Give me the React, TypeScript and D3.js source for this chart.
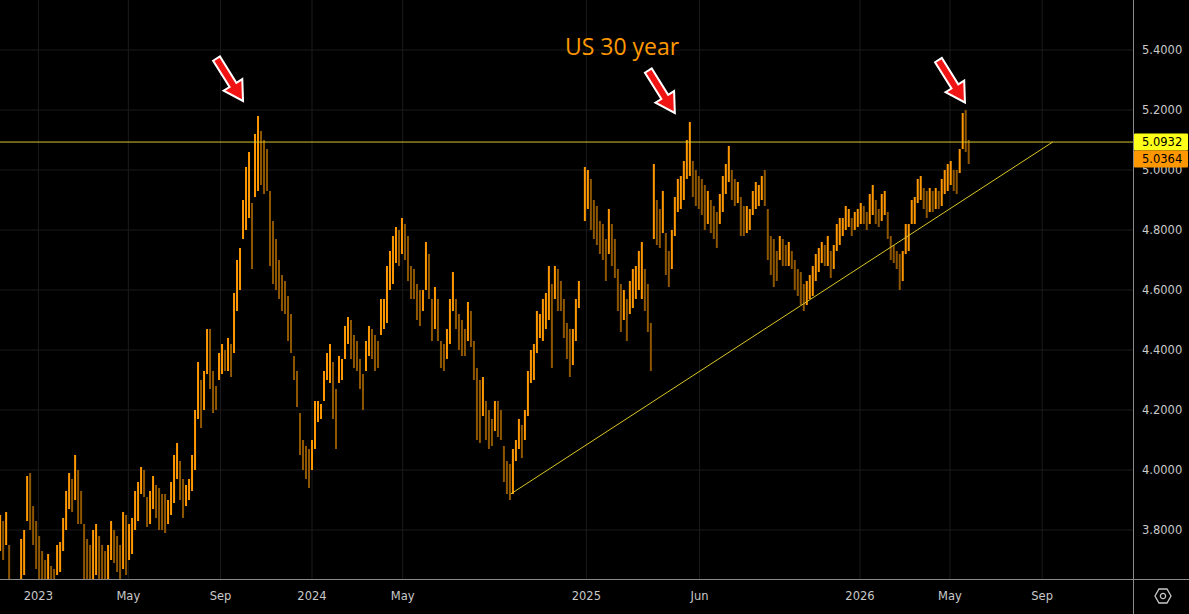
import React from "react";
import * as d3 from "d3";

// ---- data ----
const START_DATE = "2022-11-11";
const STEP_DAYS = 4;

const barHigh: (number | null)[] = [
  3.85, 3.83, 3.86, 3.75, 3.62, 3.61, 3.63, 3.77, 3.8, 3.98,
  3.99, 3.88, 3.83, 3.78, 3.73, 3.7, 3.72, 3.68, 3.67, 3.75,
  3.76, 3.84, 3.93, 3.99, 3.97, 4.05, 4.0, 3.93, 3.82, 3.77,
  3.75, 3.8, 3.82, 3.78, 3.75, 3.73, 3.75, 3.83, 3.8, 3.78,
  3.75, 3.86, 3.85, 3.82, 3.84, 3.93, 3.96, 4.01, 4.0, 3.91,
  3.93, 3.98, 3.95, 3.94, 3.92, 3.92, 3.9, 3.96, 4.05, 4.09,
  4.03, 3.97, 3.95, 3.97, 4.05, 4.2, 4.36, 4.3, 4.33, 4.47,
  4.47, 4.33, 4.28, 4.39, 4.42, 4.4, 4.44, 4.42, 4.59, 4.7,
  4.74, 4.9, 5.01, 5.06, 4.89, 5.12, 5.18, 5.13, 5.1, 5.07,
  4.93, 4.83, 4.77, 4.7, 4.65, 4.63, 4.58, 4.52, 4.38, 4.33,
  4.19, 4.1, 4.08, 4.07, 4.1, 4.23, 4.23, 4.22, 4.33, 4.39,
  4.42, 4.36, 4.27, 4.38, 4.37, 4.48, 4.51, 4.5, 4.45, 4.43,
  4.37, 4.32, 4.43, 4.48, 4.47, 4.45, 4.43, 4.57, 4.57, 4.68,
  4.73, 4.78, 4.81, 4.8, 4.84, 4.82, 4.78, 4.68, 4.67, 4.62,
  4.6, 4.6, 4.76, 4.72, 4.57, 4.61, 4.57, 4.43, 4.42, 4.47,
  4.57, 4.66, 4.57, 4.52, 4.5, 4.47, 4.56, 4.53, 4.43, 4.34,
  4.3, 4.31, 4.23, 4.2, 4.17, 4.23, 4.23, 4.2, 4.08, 4.03,
  4.02, 4.07, 4.1, 4.17, 4.15, 4.2, 4.33, 4.4, 4.42, 4.53,
  4.52, 4.57, 4.59, 4.68, 4.62, 4.68, 4.67, 4.63, 4.57, 4.49,
  4.47, 4.47, 4.57, 4.63, null, 5.01, 5.0, 4.97, 4.9, 4.88,
  4.83, 4.82, 4.77, 4.87, 4.82, 4.77, 4.67, 4.62, 4.6, 4.57,
  4.63, 4.67, 4.68, 4.73, 4.76, 4.67, 4.62, 4.49, 5.02, 4.9,
  4.87, 4.93, 4.79, 4.73, 4.8, 4.91, 4.97, 4.98, 5.03, 5.1,
  5.16, 5.03, 5.0, 4.98, 4.97, 4.95, 4.93, 4.9, 4.88, 4.86,
  4.92, 4.98, 5.02, 5.08, 5.0, 4.97, 4.96, 4.91, 4.88, 4.88,
  4.87, 4.93, 4.96, 4.95, 4.98, 5.0, 4.87, 4.78, 4.77, 4.73,
  4.78, 4.77, 4.75, 4.76, 4.73, 4.7, 4.67, 4.66, 4.62, 4.63,
  4.65, 4.68, 4.72, 4.74, 4.76, 4.75, 4.78, 4.73, 4.75, 4.82,
  4.84, 4.84, 4.88, 4.87, 4.84, 4.86, 4.87, 4.89, 4.88, 4.86,
  4.92, 4.95, 4.9, 4.87, 4.92, 4.93, 4.86, 4.78, 4.75, 4.73,
  4.72, 4.73, 4.82, 4.82, 4.9, 4.91, 4.97, 4.98, 4.94, 4.93,
  4.94, 4.93, 4.94, 4.93, 4.97, 5.0, 5.02, 5.03, 5.0, 5.0,
  5.07, 5.19, 5.2, 5.1,
];

const barLow: (number | null)[] = [
  3.73, 3.7, 3.75, 3.62, 3.55, 3.54, 3.56, 3.62, 3.65, 3.83,
  3.8, 3.75, 3.67, 3.63, 3.6, 3.6, 3.6, 3.58, 3.57, 3.65,
  3.66, 3.73, 3.8, 3.87, 3.86, 3.9, 3.82, 3.82, 3.63, 3.6,
  3.6, 3.63, 3.65, 3.62, 3.62, 3.6, 3.63, 3.7, 3.69, 3.66,
  3.62, 3.67, 3.65, 3.7, 3.72, 3.8, 3.83, 3.92, 3.91, 3.81,
  3.82, 3.87, 3.84, 3.8, 3.8, 3.79, 3.82, 3.85, 3.89, 3.97,
  3.9, 3.84, 3.88, 3.9, 3.93, 4.0, 4.17, 4.14, 4.2, 4.32,
  4.27, 4.19, 4.2, 4.3, 4.32, 4.33, 4.33, 4.31, 4.39, 4.53,
  4.6, 4.77, 4.8, 4.84, 4.67, 4.91, 4.93, 4.95, 4.92, 4.93,
  4.68, 4.62, 4.6, 4.57, 4.53, 4.52, 4.43, 4.39, 4.3, 4.21,
  4.05, 4.0, 3.97, 3.94, 4.0, 4.07, 4.16, 4.17, 4.23, 4.3,
  4.29, 4.17, 4.07, 4.29, 4.3, 4.37, 4.42, 4.37, 4.34, 4.33,
  4.27, 4.2, 4.33, 4.38, 4.37, 4.33, 4.34, 4.45, 4.47, 4.49,
  4.6, 4.62, 4.69, 4.68, 4.72, 4.7, 4.63, 4.57, 4.57, 4.5,
  4.48, 4.53, 4.6, 4.57, 4.43, 4.47, 4.43, 4.34, 4.33, 4.37,
  4.42, 4.53, 4.47, 4.4, 4.38, 4.38, 4.43, 4.41, 4.3, 4.1,
  4.09, 4.18, 4.1, 4.07, 4.08, 4.13, 4.11, 4.1, 3.96, 3.92,
  3.9, 3.92, 4.03, 4.07, 4.04, 4.1, 4.18, 4.29, 4.3, 4.39,
  4.44, 4.43, 4.47, 4.5, 4.34, 4.57, 4.53, 4.53, 4.44, 4.37,
  4.31, 4.35, 4.43, 4.54, null, 4.83, 4.87, 4.8, 4.77, 4.75,
  4.72, 4.7, 4.63, 4.72, 4.68, 4.64, 4.53, 4.46, 4.5, 4.43,
  4.52, 4.54, 4.57, 4.6, 4.57, 4.53, 4.46, 4.33, 4.77, 4.75,
  4.74, 4.79, 4.65, 4.61, 4.67, 4.78, 4.86, 4.87, 4.9, 4.97,
  4.98, 4.91, 4.88, 4.87, 4.85, 4.8, 4.82, 4.79, 4.77, 4.74,
  4.82, 4.86, 4.92, 4.96, 4.9, 4.88, 4.89, 4.78, 4.78, 4.79,
  4.8, 4.85, 4.87, 4.88, 4.9, 4.88, 4.7, 4.65, 4.61, 4.63,
  4.7, 4.68, 4.68, 4.68, 4.67, 4.6, 4.58, 4.55, 4.53, 4.55,
  4.57, 4.58, 4.63, 4.66, 4.69, 4.68, 4.68, 4.64, 4.67, 4.73,
  4.75, 4.78, 4.8, 4.81, 4.78, 4.8, 4.81, 4.82, 4.82, 4.8,
  4.82, 4.85, 4.82, 4.81, 4.83, 4.85, 4.77, 4.7, 4.69, 4.67,
  4.6, 4.63, 4.72, 4.73, 4.82, 4.82, 4.89, 4.9, 4.87, 4.84,
  4.86, 4.86, 4.87, 4.87, 4.88, 4.92, 4.93, 4.95, 4.93, 4.92,
  4.99, 5.07, 5.06, 5.02,
];

const yTicks = [3.8, 4.0, 4.2, 4.4, 4.6, 4.8, 5.0, 5.2, 5.4];
const timeTickDates = [
  "2023-01-01", "2023-05-01", "2023-09-01", "2024-01-01", "2024-05-01",
  "2025-01-01", "2025-06-01", "2026-01-01", "2026-05-01", "2026-09-01",
];
const timeTickLabels = ["2023", "May", "Sep", "2024", "May", "2025", "Jun", "2026", "May", "Sep"];

const resistanceLevel = 5.0932;
const lastPrice = 5.0364;
const trendDates = ["2024-09-22", "2026-09-15"];
const trendValues = [3.92, 5.0932];
const arrowDates = ["2023-10-01", "2025-04-29", "2026-05-21"];
const arrowValues = [5.23, 5.19, 5.225];
const titleText = "US 30 year";

const parse = d3.utcParse("%Y-%m-%d");

export default function App() {
  const W = 1189;
  const H = 614;
  const plotR = 1133;
  const plotB = 579;

  const x = d3
    .scaleUtc()
    .domain([parse("2024-01-01")!, parse("2026-01-01")!])
    .range([312, 860]);
  const y = d3.scaleLinear().domain([3.8, 5.4]).range([530, 50]);

  const start = parse(START_DATE)!;
  const bars = barHigh
    .map((h, i) => ({
      date: d3.utcDay.offset(start, i * STEP_DAYS),
      high: h,
      low: barLow[i],
    }))
    .filter((b) => b.high != null && b.low != null) as {
    date: Date;
    high: number;
    low: number;
  }[];

  const axisFont = "'DejaVu Sans', Verdana, sans-serif";
  const gridColor = "#1b1b1b";
  const lineYellow = "#d9c626";

  // arrow shape pointing along +x with tip at origin
  const arrowPath = "M0,0 L-19,-11 L-19,-4 L-50,-4 L-50,4 L-19,4 L-19,11 Z";
  const arrowAngle = 58;

  return (
    <svg
      width={W}
      height={H}
      style={{ position: "absolute", left: 0, top: 0, display: "block" }}
    >
      <defs>
        <clipPath id="plotClip">
          <rect x={0} y={0} width={plotR} height={plotB} />
        </clipPath>
      </defs>
      <rect x={0} y={0} width={W} height={H} fill="#000" />

      {/* grid */}
      <g>
        {yTicks.map((t) => (
          <line key={"gy" + t} x1={0} x2={plotR} y1={y(t)} y2={y(t)} stroke={gridColor} strokeWidth={1} />
        ))}
        {timeTickDates.map((d) => (
          <line
            key={"gx" + d}
            x1={x(parse(d)!)}
            x2={x(parse(d)!)}
            y1={0}
            y2={plotB}
            stroke={gridColor}
            strokeWidth={1}
          />
        ))}
      </g>

      {/* bars */}
      <g clipPath="url(#plotClip)">
        {bars.map((b, i) => {
          const prev = i > 0 ? bars[i - 1] : b;
          const down = (b.high + b.low) / 2 < (prev.high + prev.low) / 2;
          const y1 = y(b.high);
          const y2 = y(b.low);
          return (
            <rect
              key={i}
              x={x(b.date) - 1}
              y={y1}
              width={2}
              height={Math.max(1, y2 - y1)}
              fill={down ? "#8f5600" : "#ff9800"}
            />
          );
        })}
        <line
          x1={0}
          x2={plotR}
          y1={y(resistanceLevel)}
          y2={y(resistanceLevel)}
          stroke={lineYellow}
          strokeWidth={1}
        />
        <line
          x1={x(parse(trendDates[0])!)}
          y1={y(trendValues[0])}
          x2={x(parse(trendDates[1])!)}
          y2={y(trendValues[1])}
          stroke={lineYellow}
          strokeWidth={1}
        />
        {arrowDates.map((d, i) => (
          <path
            key={"ar" + i}
            d={arrowPath}
            transform={`translate(${x(parse(d)!)},${y(arrowValues[i])}) rotate(${arrowAngle})`}
            fill="#f01414"
            stroke="#ffffff"
            strokeWidth={2}
            strokeLinejoin="miter"
          />
        ))}
        <text
          x={622}
          y={55}
          textAnchor="middle"
          fontFamily="'Open Sans', 'Noto Sans', sans-serif"
          fontSize={23}
          fill="#ff9800"
        >
          {titleText}
        </text>
      </g>

      {/* axes frame */}
      <line x1={0} x2={W} y1={plotB + 0.5} y2={plotB + 0.5} stroke="#8a8a8a" strokeWidth={1} />
      <line x1={plotR + 0.5} x2={plotR + 0.5} y1={0} y2={H} stroke="#8a8a8a" strokeWidth={1} />

      {/* y tick labels */}
      {yTicks.map((t) => (
        <text
          key={"yl" + t}
          x={1142}
          y={y(t)}
          dominantBaseline="central"
          fontFamily={axisFont}
          fontSize={11.5}
          fill="#c9c9c9"
        >
          {t.toFixed(4)}
        </text>
      ))}

      {/* x tick labels */}
      {timeTickDates.map((d, i) => (
        <text
          key={"xl" + d}
          x={x(parse(d)!)}
          y={596}
          textAnchor="middle"
          dominantBaseline="central"
          fontFamily={axisFont}
          fontSize={11.5}
          fill="#c9c9c9"
        >
          {timeTickLabels[i]}
        </text>
      ))}

      {/* price labels */}
      {[
        { v: resistanceLevel, c: "#ffff1a" },
        { v: lastPrice, c: "#ff9800" },
      ].map((p) => (
        <g key={"pl" + p.v}>
          <rect x={plotR + 1} y={y(p.v) - 8.5} width={54} height={17} fill={p.c} rx={1} />
          <text
            x={1142}
            y={y(p.v)}
            dominantBaseline="central"
            fontFamily={axisFont}
            fontSize={11.5}
            fill="#000"
          >
            {p.v.toFixed(4)}
          </text>
        </g>
      ))}

      {/* settings icon */}
      <g transform="translate(1163,596)" fill="none" stroke="#c9c9c9" strokeWidth={1.3}>
        <path d="M-8,0 L-4,-7 L4,-7 L8,0 L4,7 L-4,7 Z" />
        <circle r={2.6} />
      </g>
    </svg>
  );
}
